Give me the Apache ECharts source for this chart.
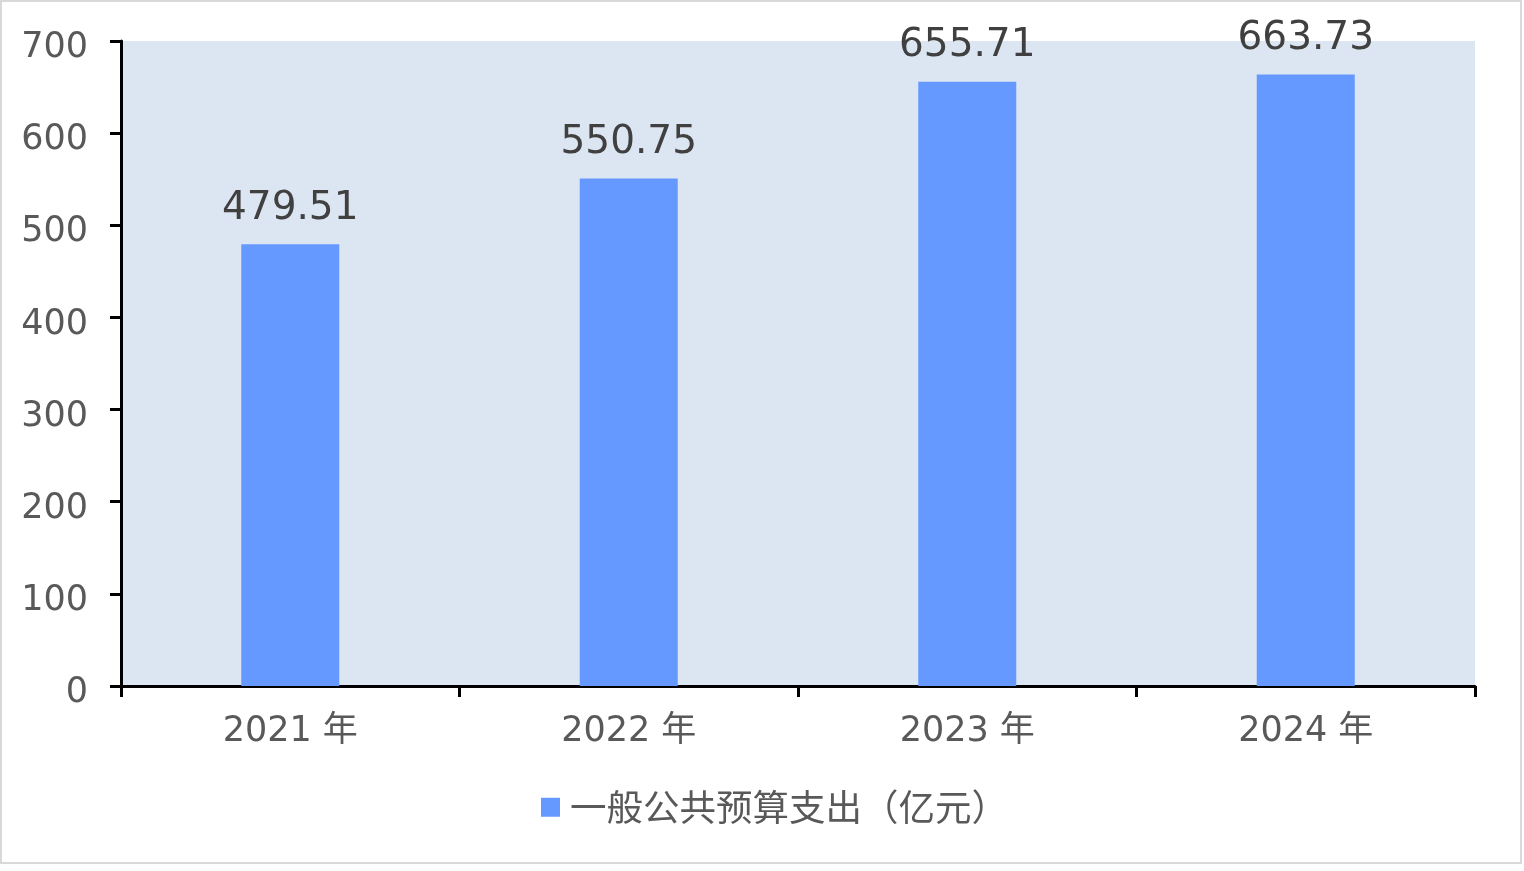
<!DOCTYPE html>
<html>
<head>
<meta charset="utf-8">
<script src="https://cdn.jsdelivr.net/npm/echarts@6/dist/echarts.min.js"></script>
<style>
html,body{margin:0;padding:0;background:#fff;}
#chart{width:1524px;height:871px;}
</style>
</head>
<body>
<div id="chart"></div>
<script>
const categories = ['2021 年', '2022 年', '2023 年', '2024 年'];
const seriesName = '一般公共预算支出（亿元）';
const values = [479.51, 550.75, 655.71, 663.73];
const yMin = 0, yMax = 700, yInterval = 100;

const chart = echarts.init(document.getElementById('chart'));
const FONT = '"DejaVu Sans", "Noto Sans CJK SC", sans-serif';
chart.setOption({
  animation: false,
  backgroundColor: '#ffffff',
  graphic: [{
    type: 'rect',
    shape: {x: 1, y: 1, width: 1520, height: 862},
    style: {fill: 'none', stroke: '#d9d9d9', lineWidth: 2},
    silent: true
  }],
  grid: {
    left: 121, right: 49, top: 41, bottom: 185,
    show: true, backgroundColor: '#dce6f2', borderWidth: 0
  },
  legend: {
    data: [seriesName],
    left: 541,
    top: 789,
    padding: 0,
    itemWidth: 19,
    itemHeight: 19,
    itemGap: 10,
    icon: 'rect',
    textStyle: {fontFamily: '"Noto Sans CJK SC", sans-serif', fontSize: 36.5, color: '#595959', padding: [0, 0, 0, 5]}
  },
  xAxis: {
    type: 'category',
    data: categories,
    axisLine: {lineStyle: {color: '#000', width: 3}},
    axisTick: {show: true, length: 11, lineStyle: {color: '#000', width: 3}},
    axisLabel: {fontFamily: FONT, fontSize: 35, color: '#595959', margin: 28}
  },
  yAxis: {
    type: 'value',
    min: yMin, max: yMax, interval: yInterval,
    axisLine: {show: true, lineStyle: {color: '#000', width: 3}},
    axisTick: {show: true, length: 11, lineStyle: {color: '#000', width: 3}},
    splitLine: {show: false},
    axisLabel: {
      margin: 33,
      formatter: '{a|{value}}',
      rich: {a: {fontFamily: FONT, fontSize: 35, color: '#595959', padding: [14, 0, 0, 0]}}
    }
  },
  series: [{
    name: seriesName,
    type: 'bar',
    data: values,
    barWidth: 98,
    itemStyle: {color: '#6699ff'},
    label: {
      show: true, position: 'top', distance: 16,
      fontFamily: FONT, fontSize: 39, color: '#404040',
      formatter: p => p.value.toFixed(2)
    }
  }]
});
</script>
</body>
</html>
